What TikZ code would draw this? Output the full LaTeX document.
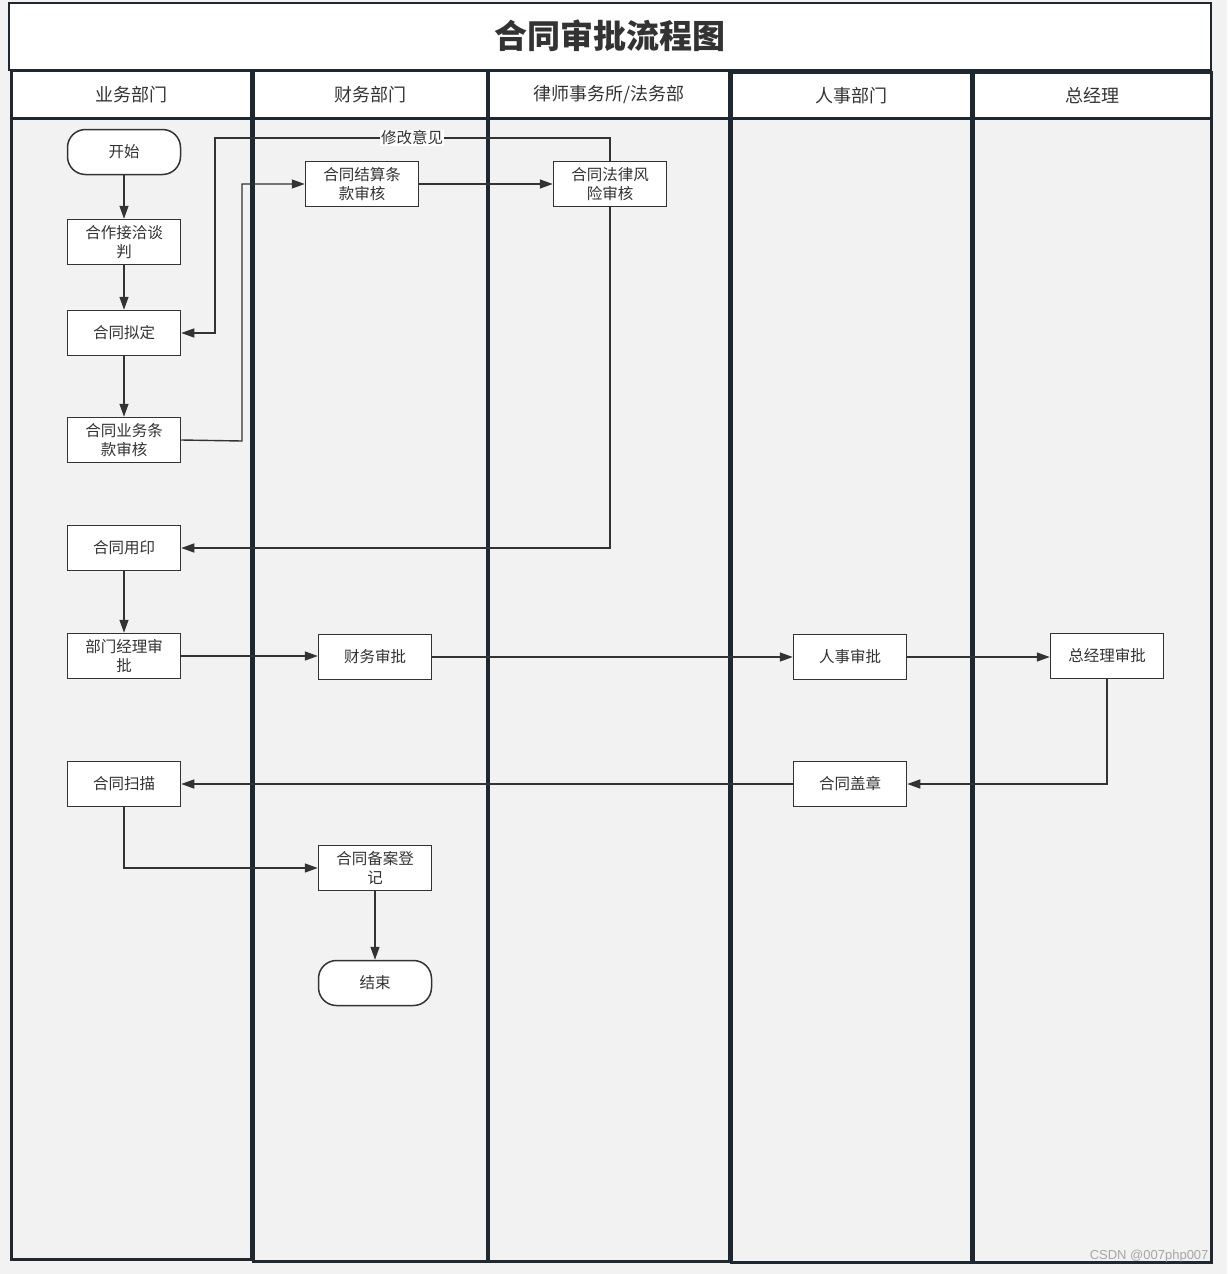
\documentclass[tikz,border=0pt]{standalone}
\usepackage{fontspec}
\newfontfamily\cjk{Noto Sans CJK SC}
\usetikzlibrary{arrows.meta,calc}
\definecolor{bgc}{HTML}{F2F2F2}
\definecolor{lanec}{HTML}{1F2830}
\definecolor{linec}{HTML}{333333}
\definecolor{txtc}{HTML}{333333}
\tikzset{
  stepbox/.style={draw=linec, line width=1.5pt, fill=white, minimum width=113pt, minimum height=45pt,
    inner sep=0pt, align=center, text=txtc, font=\cjk\fontsize{15.5}{19}\selectfont},
  termbox/.style={stepbox, rounded corners=18pt},
  arr/.style={draw=linec, line width=1.4pt, -{Triangle[length=13pt,width=9pt]}},
  plainline/.style={draw=linec, line width=1.4pt},
  lane/.style={draw=lanec, line width=3pt},
  headtxt/.style={text=txtc, font=\cjk\fontsize{18}{20}\selectfont},
}
\begin{document}
\begin{tikzpicture}[x=1pt,y=-1pt]
\useasboundingbox (0,0) rectangle (1227,1274);
\fill[bgc] (0,0) rectangle (1227,1274);
% title
\node[draw=lanec, line width=2pt, fill=white, minimum width=1202pt, minimum height=67pt, inner sep=0pt,
  text=txtc, font=\cjk\bfseries\fontsize{33}{36}\selectfont] (title) at (610,36) {合同审批流程图};
% lanes
\foreach \xa/\xb/\yt/\yb [count=\i] in {11/251/70/1259, 253/487/70/1261, 488/729/70/1261, 731/971/72/1262, 973/1211/72/1262}{
  \fill[white] (\xa,\yt) rectangle (\xb,118);
  \fill[bgc] (\xa,118) rectangle (\xb,\yb);
  \draw[lane] (\xa,\yt) rectangle (\xb,\yb);
  \draw[lane] (\xa,118) -- (\xb,118);
}
\node[headtxt] (h1) at (131,95) {业务部门};
\node[headtxt] (h2) at (370,95) {财务部门};
\node[headtxt] (h3) at (609,95) {律师事务所/法务部};
\node[headtxt] (h4) at (851,96) {人事部门};
\node[headtxt] (h5) at (1092,96) {总经理};
% nodes
\node[termbox] (ks) at (124,152) {开始};
\node[stepbox] (ht) at (124,242) {合作接洽谈\\判};
\node[stepbox] (nd) at (124,333) {合同拟定};
\node[stepbox] (yw) at (124,440) {合同业务条\\款审核};
\node[stepbox] (yy) at (124,548) {合同用印};
\node[stepbox] (bm) at (124,656) {部门经理审\\批};
\node[stepbox] (sm) at (124,784) {合同扫描};
\node[stepbox] (js) at (362,184) {合同结算条\\款审核};
\node[stepbox] (fl) at (610,184) {合同法律风\\险审核};
\node[stepbox] (cw) at (375,657) {财务审批};
\node[stepbox] (rs) at (850,657) {人事审批};
\node[stepbox] (zj) at (1107,656) {总经理审批};
\node[stepbox] (gz) at (850,784) {合同盖章};
\node[stepbox] (ba) at (375,868) {合同备案登\\记};
\node[termbox] (jsu) at (375,983) {结束};
% connectors
\draw[arr] (ks) -- (ht);
\draw[arr] (ht) -- (nd);
\draw[arr] (nd) -- (yw);
\coordinate (c1) at (242,441);
\draw[arr] (yw.east) -- (c1) |- (js.west);
\draw[arr] (js) -- (fl);
\coordinate (c2) at (215,138);
\draw[arr] (fl.north) |- (c2) |- (nd.east);
\node[fill=white, inner sep=1pt, text=txtc, font=\cjk\fontsize{15.5}{17}\selectfont] (lbl) at (412,138) {修改意见};
\draw[arr] (fl.south) |- (yy.east);
\draw[arr] (yy) -- (bm);
\draw[arr] (bm.east) -- (cw.west |- bm.east);
\draw[arr] (cw) -- (rs);
\draw[arr] (rs.east) -- (zj.west |- rs.east);
\draw[arr] (zj.south) |- (gz.east);
\draw[arr] (gz) -- (sm);
\draw[arr] (sm.south) |- (ba.west);
\draw[arr] (ba) -- (jsu);
% watermark
\node[anchor=east, text=gray!70, font=\fontspec{Liberation Sans}\fontsize{13}{14}\selectfont] (wm) at (1212,1256) {CSDN @007php007};
\end{tikzpicture}
\end{document}
